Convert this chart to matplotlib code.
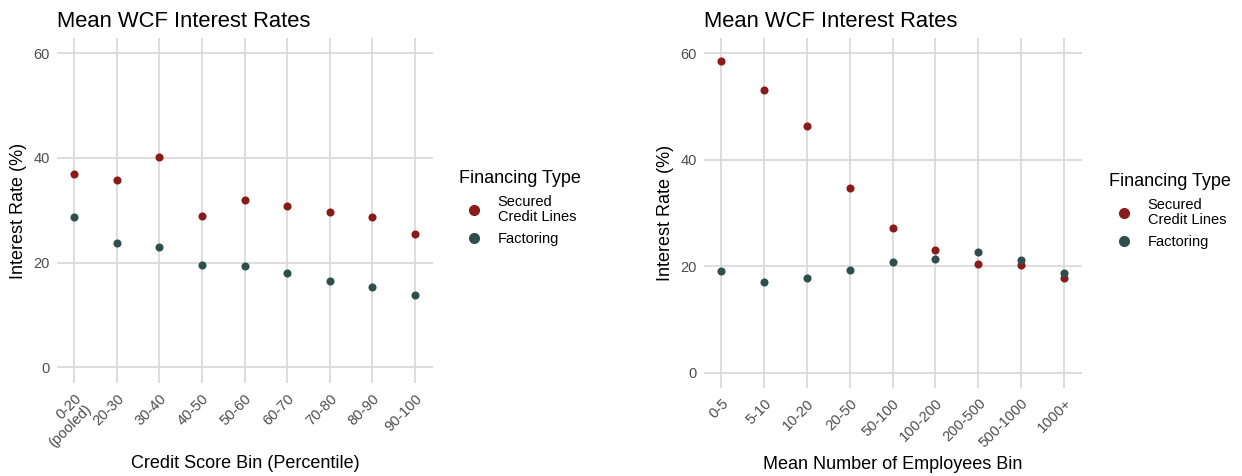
import matplotlib
matplotlib.use("Agg")
import matplotlib.pyplot as plt
from matplotlib.lines import Line2D

plt.rcParams['font.family'] = ['Liberation Sans', 'DejaVu Sans']

# ---- data ----
credit_bins = ["0-20\n(pooled)", "20-30", "30-40", "40-50", "50-60", "60-70", "70-80", "80-90", "90-100"]
credit_secured = [36.9, 35.8, 40.1, 28.9, 32.0, 30.8, 29.7, 28.7, 25.5]
credit_factoring = [28.8, 23.8, 22.9, 19.55, 19.3, 18.0, 16.5, 15.4, 13.9]

emp_bins = ["0-5", "5-10", "10-20", "20-50", "50-100", "100-200", "200-500", "500-1000", "1000+"]
emp_secured = [58.6, 53.1, 46.3, 34.7, 27.1, 23.0, 20.4, 20.3, 17.8]
emp_factoring = [19.05, 17.1, 17.8, 19.3, 20.75, 21.4, 22.6, 21.2, 18.8]

series_names = ["Secured\nCredit Lines", "Factoring"]
y_ticks = [0, 20, 40, 60]

RED = "#8B1A1A"
TEAL = "#2F4F4F"
GRID = "#dadada"

TICK_FS = 10.5
AXIS_FS = 13
TITLE_FS = 15.8

W, H = 1242, 476
fig = plt.figure(figsize=(W / 100, H / 100), dpi=100)


def make_axes(l, r, t, b):
    return fig.add_axes([l / W, 1 - b / H, (r - l) / W, (b - t) / H])


def style(ax, cats, sec, fac, xlabel, ylim):
    x = list(range(len(cats)))
    ax.set_axisbelow(True)
    ax.scatter(x, sec, s=34, color=RED, zorder=3, linewidths=0)
    ax.scatter(x, fac, s=34, color=TEAL, zorder=3, linewidths=0)
    ax.set_xlim(-0.4, len(cats) - 1 + 0.42)
    ax.set_ylim(*ylim)
    ax.set_yticks(y_ticks)
    ax.set_xticks(x)
    ax.set_xticklabels(cats, rotation=45, ha='right', va='top',
                       rotation_mode='anchor', multialignment='right',
                       linespacing=1.05)
    ax.tick_params(axis='both', length=0, labelsize=TICK_FS, labelcolor='#4d4d4d')
    ax.tick_params(axis='y', pad=5)
    ax.tick_params(axis='x', pad=6)
    for s in ax.spines.values():
        s.set_visible(False)
    ax.grid(True, color=GRID, linewidth=1.3)
    ax.set_xlabel(xlabel, fontsize=AXIS_FS, color='black', labelpad=4)
    ax.set_ylabel("Interest Rate (%)", fontsize=AXIS_FS, color='black', labelpad=5)
    ax.set_title("Mean WCF Interest Rates", fontsize=TITLE_FS, loc='left', pad=8, color='black')


ax1 = make_axes(57, 433, 38, 383)
style(ax1, credit_bins, credit_secured, credit_factoring,
      "Credit Score Bin (Percentile)", (-3.0, 62.9))

ax2 = make_axes(704, 1082, 38, 388)
style(ax2, emp_bins, emp_secured, emp_factoring,
      "Mean Number of Employees Bin", (-2.9, 62.9))


def add_legend(ax, x0, y0):
    handles = [Line2D([], [], marker='o', linestyle='', color=c, markersize=7)
               for c in (RED, TEAL)]
    leg = ax.legend(handles, series_names, title="Financing Type",
                    loc='upper left', bbox_to_anchor=(x0 / W, 1 - y0 / H),
                    bbox_transform=fig.transFigure, frameon=False,
                    fontsize=TICK_FS, title_fontsize=AXIS_FS, borderpad=0,
                    handletextpad=0.65, labelspacing=0.55, borderaxespad=0,
                    handlelength=2.0)
    leg._legend_box.align = 'left'
    for t in leg.get_texts():
        t.set_linespacing(1.1)


add_legend(ax1, 459, 170)
add_legend(ax2, 1109, 173)

fig.savefig("out.png", dpi=100)
